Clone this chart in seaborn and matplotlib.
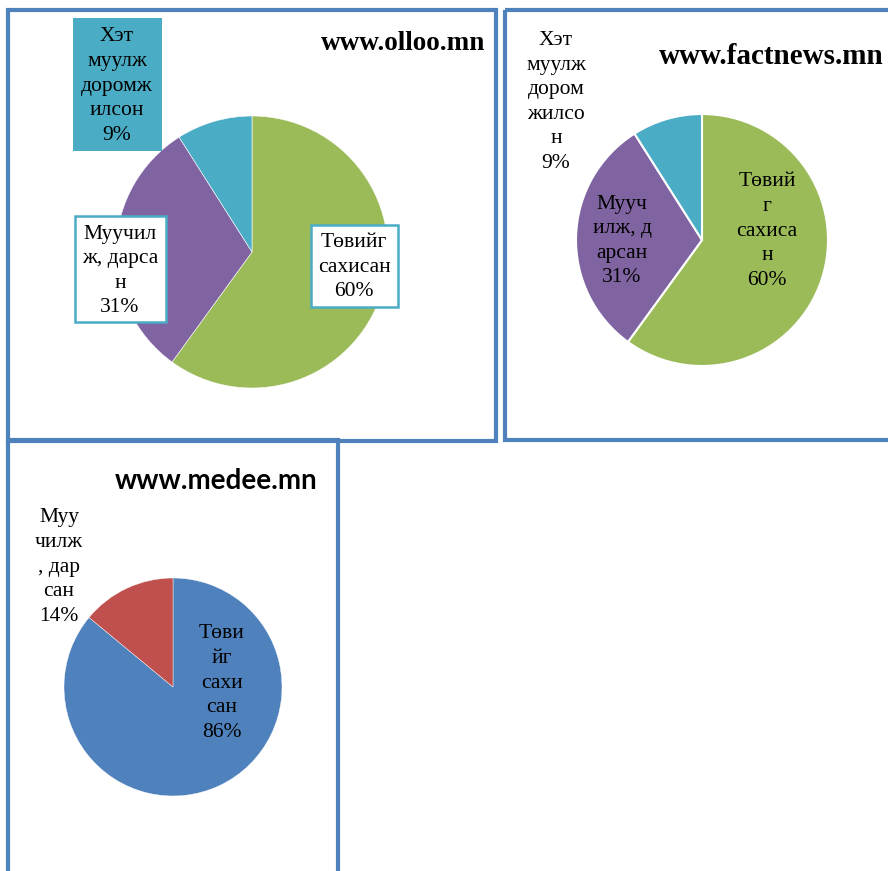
import matplotlib
matplotlib.use('Agg')
import matplotlib.pyplot as plt
import seaborn as sns
from matplotlib.patches import Rectangle

# --- data ---
olloo_labels = ['Төвийг\nсахисан', 'Муучил\nж, дарса\nн', 'Хэт\nмуулж\nдоромж\nилсон']
olloo_values = [60, 31, 9]

factnews_labels = ['Төвий\nг\nсахиса\nн', 'Мууч\nилж, д\nарсан', 'Хэт\nмуулж\nдором\nжилсо\nн']
factnews_values = [60, 31, 9]

medee_labels = ['Төви\nйг\nсахи\nсан', 'Муу\nчилж\n, дар\nсан']
medee_values = [86, 14]

titles = ['www.olloo.mn', 'www.factnews.mn', 'www.medee.mn']

sns.set_style('white')
plt.rcParams['font.family'] = ['Liberation Serif', 'DejaVu Serif']
plt.rcParams['text.color'] = 'black'

W, H = 888, 871
GREEN, PURPLE, TEAL = '#9BBB59', '#8064A2', '#4BACC6'
BLUE, RED = '#4F81BD', '#C0504D'
BORDER = '#4F81BD'

fig = plt.figure(figsize=(W / 100, H / 100), dpi=100)
fig.patch.set_facecolor('white')


def pie_axes(cx, cy, r):
    return fig.add_axes([(cx - r) / W, 1 - (cy + r) / H, 2 * r / W, 2 * r / H])


def fix(ax):
    ax.set_xlim(-1, 1)
    ax.set_ylim(-1, 1)
    ax.axis('off')


# pies
ax1 = pie_axes(252, 252, 136)
ax1.pie(olloo_values, colors=[GREEN, PURPLE, TEAL], startangle=90,
        counterclock=False, radius=1,
        wedgeprops=dict(edgecolor='white', linewidth=0.4))
fix(ax1)

ax2 = pie_axes(702, 240, 126)
ax2.pie(factnews_values, colors=[GREEN, PURPLE, TEAL], startangle=90,
        counterclock=False, radius=1,
        wedgeprops=dict(edgecolor='white', linewidth=1.5))
fix(ax2)

ax3 = pie_axes(173, 687, 109)
ax3.pie(medee_values, colors=[BLUE, RED], startangle=90,
        counterclock=False, radius=1,
        wedgeprops=dict(edgecolor='white', linewidth=0.3))
fix(ax3)

# overlay in pixel coords
ov = fig.add_axes([0, 0, 1, 1], zorder=5)
ov.set_xlim(0, W)
ov.set_ylim(H, 0)
ov.axis('off')
ov.patch.set_alpha(0)

# panel borders
for x0, y0, x1, y1 in [(7.5, 10, 496, 441), (505, 10, 900, 440), (7.5, 440, 337.5, 880)]:
    ov.add_patch(Rectangle((x0, y0), x1 - x0, y1 - y0, fill=False,
                           edgecolor=BORDER, linewidth=3))

lab_kw = dict(ha='center', va='center', fontsize=15.5, linespacing=1.4, color='black')

# panel 1 label boxes
ov.add_patch(Rectangle((73, 18), 89, 133, facecolor=TEAL, edgecolor='none'))
ov.add_patch(Rectangle((75, 216), 91, 106, facecolor='white', edgecolor=TEAL, linewidth=1.8))
ov.add_patch(Rectangle((311, 225), 87, 82, facecolor='white', edgecolor=TEAL, linewidth=1.8))
ov.text(117, 86, f'{olloo_labels[2]}\n{olloo_values[2]}%', **lab_kw)
ov.text(120, 271, f'{olloo_labels[1]}\n{olloo_values[1]}%', **lab_kw)
ov.text(354, 267, f'{olloo_labels[0]}\n{olloo_values[0]}%', **lab_kw)
ov.text(485, 44, titles[0], ha='right', va='center', fontsize=19.5, fontweight='bold',
        color='black')

# panel 2 labels
ov.text(556, 102, f'{factnews_labels[2]}\n{factnews_values[2]}%', **lab_kw)
ov.text(622, 241, f'{factnews_labels[1]}\n{factnews_values[1]}%', **lab_kw)
ov.text(767, 231, f'{factnews_labels[0]}\n{factnews_values[0]}%', **lab_kw)
ov.text(884, 56, titles[1], ha='right', va='center', fontsize=21, fontweight='bold',
        color='black')

# panel 3 labels
ov.text(59, 567, f'{medee_labels[1]}\n{medee_values[1]}%', **lab_kw)
ov.text(222, 683, f'{medee_labels[0]}\n{medee_values[0]}%', **lab_kw)
ov.text(317, 481, titles[2], ha='right', va='center', fontsize=20, fontweight='bold',
        family=['Lato', 'DejaVu Sans'], color='black')

fig.savefig('out.png', dpi=100)
